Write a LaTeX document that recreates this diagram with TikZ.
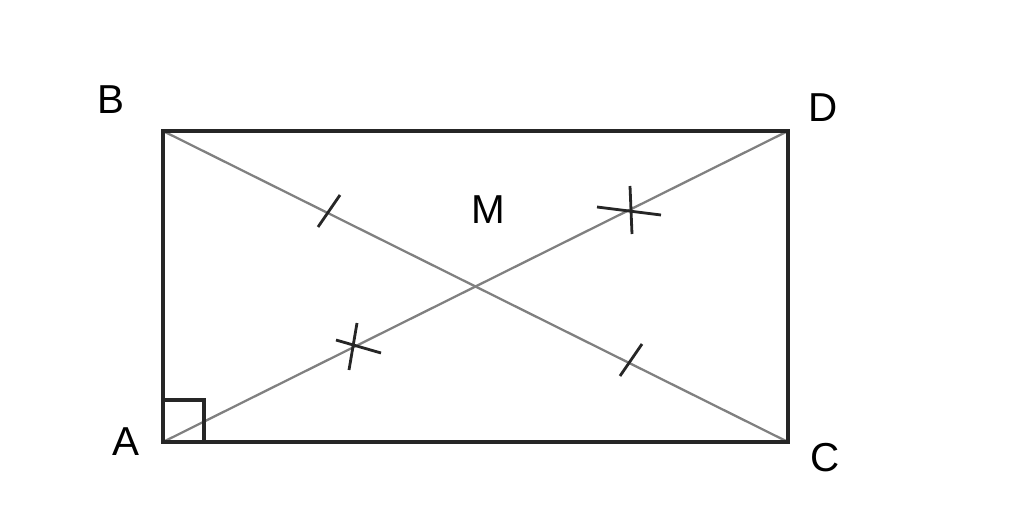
\documentclass[tikz,border=0pt]{standalone}
\usepackage{fontspec}
\setmainfont{Liberation Sans}
\begin{document}
\begin{tikzpicture}[x=0.02cm,y=-0.02cm,
  lab/.style={font=\fontsize{23}{26}\selectfont},
  frame/.style={line width=2pt,black!85},
  diag/.style={line width=1.3pt,gray},
  tick/.style={line width=1.6pt,black!85}]
\useasboundingbox (0,0) rectangle (1024,513);
\coordinate (A) at (163,442);
\coordinate (B) at (163,131);
\coordinate (C) at (788,442);
\coordinate (D) at (788,131);
\draw[diag] (B) -- (C);
\draw[diag] (A) -- (D);
\draw[frame] (A) -- (B) -- (D) -- (C) -- cycle;
\draw[frame] (163,400) -- (204,400) -- (204,442);
\node[lab] (lB) at (111,100) {B};
\node[lab] (lD) at (823,108) {D};
\node[lab] (lA) at (126,442) {A};
\node[lab] (lC) at (825,458) {C};
\node[lab] (lM) at (488,210) {M};
\draw[tick] (318,227) -- (340,195);
\draw[tick] (620,376) -- (642,344);
\draw[tick] (349,370) -- (357,323);
\draw[tick] (336,340) -- (381,353);
\draw[tick] (630,186) -- (632,234);
\draw[tick] (597,207) -- (661,215);
\end{tikzpicture}
\end{document}
